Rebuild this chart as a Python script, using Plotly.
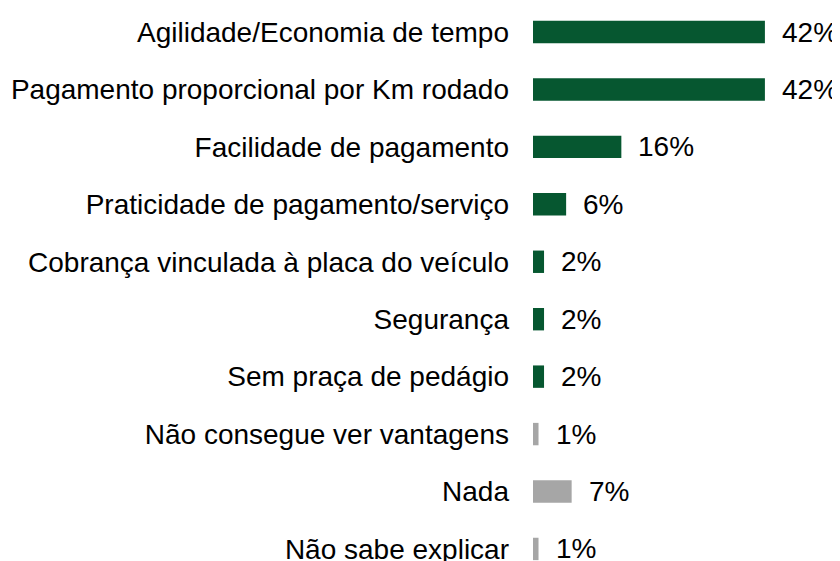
import plotly.graph_objects as go

categories = [
    "Agilidade/Economia de tempo",
    "Pagamento proporcional por Km rodado",
    "Facilidade de pagamento",
    "Praticidade de pagamento/serviço",
    "Cobrança vinculada à placa do veículo",
    "Segurança",
    "Sem praça de pedágio",
    "Não consegue ver vantagens",
    "Nada",
    "Não sabe explicar",
]
values = [42, 42, 16, 6, 2, 2, 2, 1, 7, 1]
labels = ["42%", "42%", "16%", "6%", "2%", "2%", "2%", "1%", "7%", "1%"]
groups = ["pos"] * 7 + ["neg"] * 3

GREEN = "#065730"
GRAY = "#A6A6A6"
colors = [GREEN if g == "pos" else GRAY for g in groups]
FONT = "Liberation Sans, Arial"

fig = go.Figure()
fig.add_trace(go.Bar(
    x=values, y=categories, orientation="h",
    marker=dict(color=colors, line=dict(width=0)),
    width=0.39, hoverinfo="skip",
))

for c, v, t in zip(categories, values, labels):
    fig.add_annotation(x=v, y=c, text=t, showarrow=False, xanchor="left",
                       xshift=15, font=dict(size=28, color="black", family=FONT))

fig.update_layout(
    width=840, height=561,
    margin=dict(l=525, r=8, t=0, b=0, autoexpand=False),
    paper_bgcolor="white", plot_bgcolor="white",
    showlegend=False,
    font=dict(family=FONT, size=28, color="black"),
    xaxis=dict(range=[0, 55.6], visible=False, showgrid=False, zeroline=False,
               automargin=False),
    yaxis=dict(type="category", categoryorder="array", categoryarray=categories,
               range=[9.349, -0.418], showgrid=False, zeroline=False, showline=False,
               automargin=False,
               ticks="", ticklabelstandoff=23, tickfont=dict(size=28, color="black")),
)

fig.write_html("out.html")
